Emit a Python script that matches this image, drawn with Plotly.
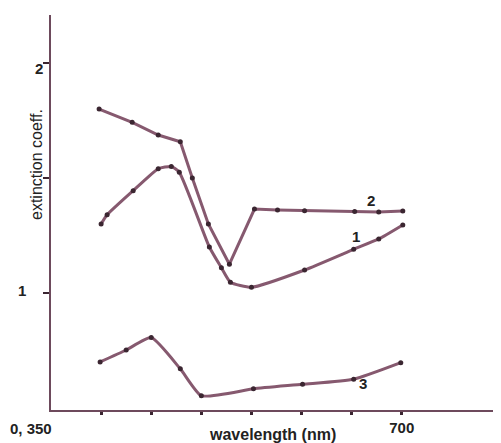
import plotly.graph_objects as go

# wavelength (nm) and extinction coefficient values
wl_1 = [400, 406, 432, 457, 470, 478, 508, 520, 529, 550, 603, 652, 677, 701]
ext_1 = [1.30, 1.34, 1.445, 1.54, 1.55, 1.525, 1.20, 1.11, 1.047, 1.025, 1.10, 1.19, 1.235, 1.296]

wl_2 = [398, 431, 457, 479, 491, 507, 528, 553, 576, 603, 653, 677, 701]
ext_2 = [1.80, 1.742, 1.687, 1.658, 1.50, 1.30, 1.125, 1.365, 1.361, 1.358, 1.354, 1.352, 1.357]

wl_3 = [399, 425, 450, 479, 500, 552, 601, 652, 699]
ext_3 = [0.70, 0.752, 0.806, 0.670, 0.553, 0.583, 0.603, 0.625, 0.697]

x_ticks = [400, 450, 500, 550, 600, 650, 700]
x_ticklabels = ["", "", "", "", "", "", "<b>700</b>"]
y_ticks = [1, 1.5, 2]

LINE = "#86596f"
DOT = "#3b2631"
AXIS = "#6d4a5c"

OFF = 8  # page body margin
W, H = 501 - OFF, 443 - OFF
L, R, T, B = 51 - OFF, 2, 15 - OFF, 33
PW, PH = W - L - R, H - T - B

fig = go.Figure()
for xs, ys, shape in [(wl_1, ext_1, "spline"), (wl_2, ext_2, "linear"), (wl_3, ext_3, "spline")]:
    fig.add_trace(go.Scatter(
        x=xs, y=ys, mode="lines+markers",
        line=dict(color=LINE, width=3, shape=shape, smoothing=0.5),
        marker=dict(color=DOT, size=5),
        showlegend=False, hoverinfo="skip", cliponaxis=False))

fig.update_layout(
    width=W, height=H,
    margin=dict(l=L, r=R, t=T, b=B, autoexpand=False),
    paper_bgcolor="white", plot_bgcolor="white",
    font=dict(family="Liberation Sans, Arial, sans-serif", color="#222"),
    xaxis=dict(range=[350, 797], showgrid=False, zeroline=False, automargin=False,
               showline=True, linecolor=AXIS, linewidth=2,
               tickvals=x_ticks, ticktext=x_ticklabels,
               ticks="outside", ticklen=3, tickwidth=3, tickcolor=DOT,
               tickfont=dict(size=15, family="Liberation Sans, Arial", color="#222")),
    yaxis=dict(range=[0.491, 2.209], showgrid=False, zeroline=False, automargin=False,
               showline=True, linecolor=AXIS, linewidth=2,
               tickvals=y_ticks, ticktext=["", "", ""],
               ticks="outside", ticklen=6, tickwidth=2, tickcolor=DOT),
)


def px2paper(px, py):
    return (px - OFF - L) / PW, (H - B - (py - OFF)) / PH


bold = dict(size=15, family="Liberation Sans, Arial", color="#222")
ann = [
    ("<b>2</b>", 39, 69, 15),
    ("<b>1</b>", 22, 290, 15),
    ("<b>0, 350</b>", 31, 428, 15),
    ("<b>wavelength (nm)</b>", 272, 435, 16),
    ("<b>1</b>", 356, 236, 15),
    ("<b>2</b>", 371, 200, 15),
    ("<b>3</b>", 363, 383, 15),
]
for t, px, py, fs in ann:
    x, y = px2paper(px, py)
    fig.add_annotation(text=t, xref="paper", yref="paper", x=x, y=y,
                       showarrow=False, font=dict(bold, size=fs),
                       xanchor="center", yanchor="middle")
x, y = px2paper(36, 165)
fig.add_annotation(text="extinction coeff.", xref="paper", yref="paper",
                   x=x, y=y, textangle=-90, showarrow=False,
                   font=dict(size=16, family="Liberation Sans, Arial", color="#222"),
                   xanchor="center", yanchor="middle")

fig.write_html("out.html")
